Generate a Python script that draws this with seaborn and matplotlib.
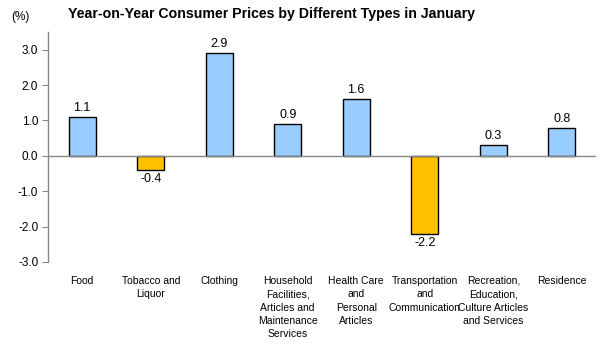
import matplotlib
matplotlib.use("Agg")
import matplotlib.pyplot as plt
import seaborn as sns
import pandas as pd

categories = ["Food", "Tobacco and\nLiquor", "Clothing",
              "Household\nFacilities,\nArticles and\nMaintenance\nServices",
              "Health Care\nand\nPersonal\nArticles",
              "Transportation\nand\nCommunication",
              "Recreation,\nEducation,\nCulture Articles\nand Services",
              "Residence"]
values = [1.1, -0.4, 2.9, 0.9, 1.6, -2.2, 0.3, 0.8]
yticks = [-3.0, -2.0, -1.0, 0.0, 1.0, 2.0, 3.0]

sns.set_theme(style="white")
plt.rcParams['font.family'] = ['Liberation Sans', 'DejaVu Sans']
plt.rcParams['text.color'] = 'black'
plt.rcParams['xtick.color'] = 'black'
plt.rcParams['ytick.color'] = 'black'

df = pd.DataFrame({"cat": categories, "val": values})
df["sign"] = ["pos" if v >= 0 else "neg" for v in values]

fig = plt.figure(figsize=(6.04, 3.47), dpi=100)
ax = fig.add_axes([48/604, 1-262/347, 548/604, 230/347])

sns.barplot(data=df, x="cat", y="val", hue="sign",
            palette={"pos": "#99CCFF", "neg": "#FFC000"}, saturation=1,
            dodge=False, width=0.4, edgecolor="black", linewidth=1.0,
            legend=False, ax=ax)

ax.set_ylim(-3.0, 3.5)
ax.set_yticks(yticks)
ax.set_yticklabels([f"{t:.1f}" for t in yticks], fontsize=8.5)
ax.set_xlabel("")
ax.set_ylabel("")
ax.set_xticks(range(len(categories)))
ax.set_xticklabels(categories, fontsize=7.5, linespacing=1.42, va="top")
ax.tick_params(axis="x", length=0, pad=10)
ax.tick_params(axis="y", left=True, length=4, width=0.8, color="#888888", pad=3,
               labelcolor="black")

for s in ["top", "right", "bottom"]:
    ax.spines[s].set_visible(False)
ax.spines["left"].set_color("#888888")
ax.spines["left"].set_linewidth(1.0)
ax.axhline(0, color="#888888", linewidth=1.0, zorder=1)

for i, v in enumerate(values):
    if v >= 0:
        ax.text(i, v + 0.08, f"{v:.1f}", ha="center", va="bottom", fontsize=9)
    else:
        ax.text(i, v - 0.08, f"{v:.1f}", ha="center", va="top", fontsize=9)

fig.text(272/604, 1-14/347, "Year-on-Year Consumer Prices by Different Types in January",
         ha="center", va="center", fontsize=10.2, fontweight="bold")
fig.text(20/604, 1-17/347, "(%)", ha="center", va="center", fontsize=8.5)

fig.savefig("out.png", dpi=100)
